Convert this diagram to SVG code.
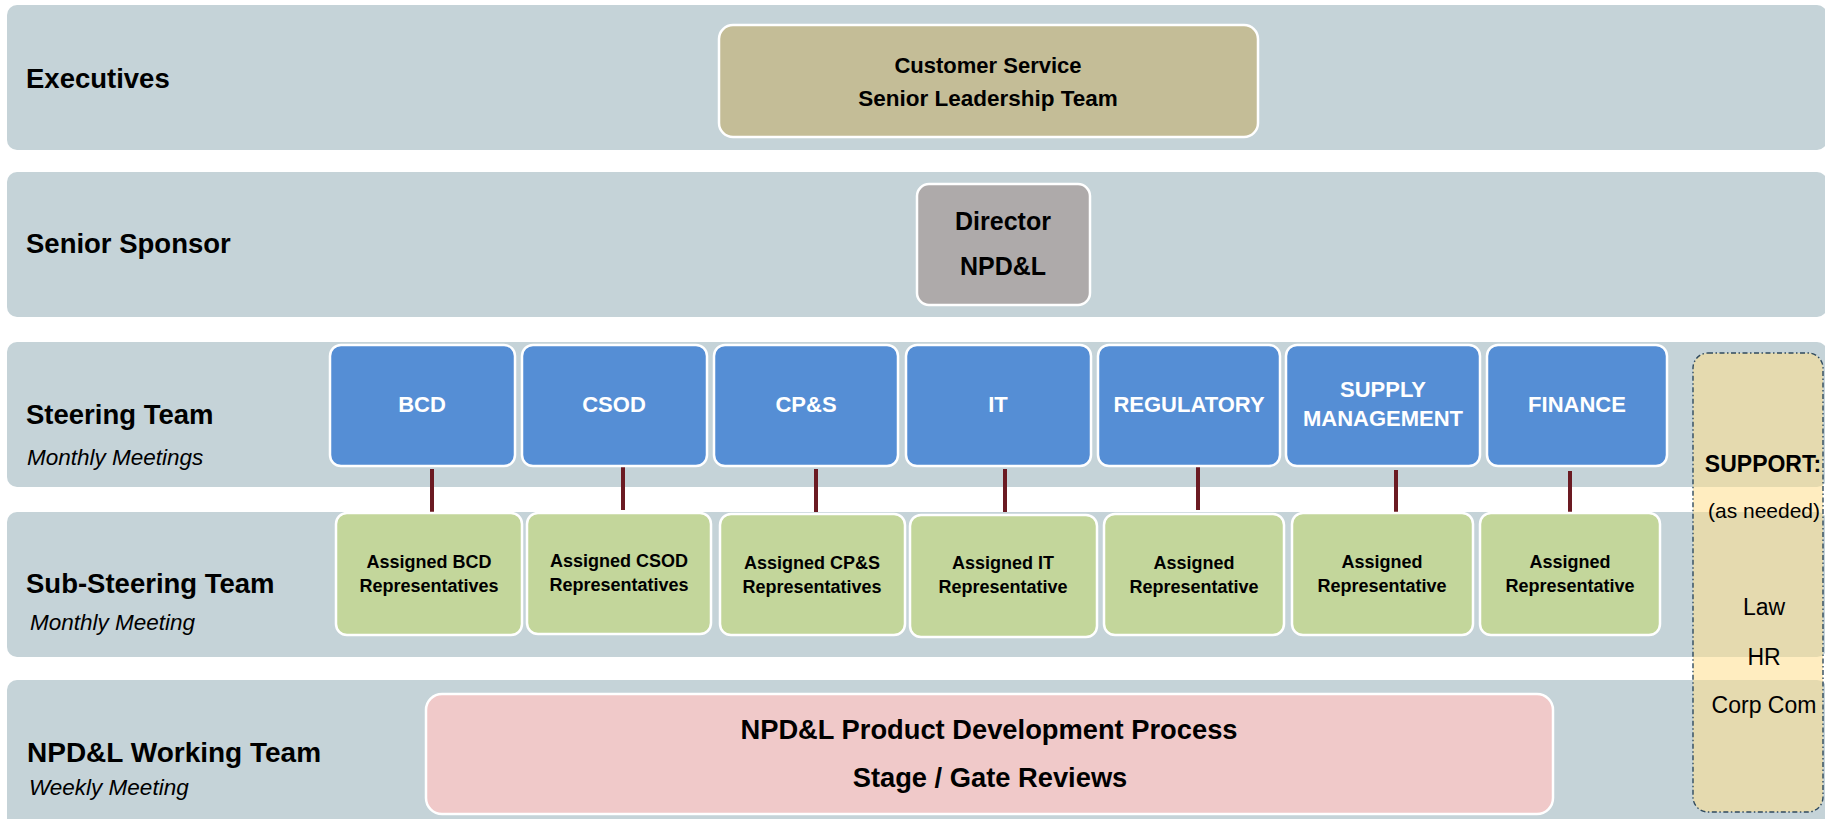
<svg xmlns="http://www.w3.org/2000/svg" width="1825" height="819" viewBox="0 0 1825 819">
<style>
text{font-family:"Liberation Sans",Arial,sans-serif;fill:#000}
.band{fill:#C5D3D8}
.lbl{font-weight:bold;font-size:27.5px}
.sub{font-style:italic;font-size:22.5px}
.box{stroke:#fff;stroke-width:2.5}
.exec{fill:#C4BD97}
.dir{fill:#AEAAAA}
.blue{fill:#558ED5}
.green{fill:#C3D69B}
.pink{fill:#F0C9C9}
.bt{font-weight:bold;font-size:22px;fill:#fff;text-anchor:middle}
.gt{font-weight:bold;font-size:18px;text-anchor:middle}
.ct{font-weight:bold;text-anchor:middle}
.st{font-size:23px;text-anchor:middle}
.conn line{stroke:#6B1A22;stroke-width:4}
</style>
<g id="bands">
<rect class="band" x="7" y="5" width="1820" height="145" rx="10"/>
<rect class="band" x="7" y="172" width="1820" height="145" rx="10"/>
<rect class="band" x="7" y="342" width="1820" height="145" rx="10"/>
<rect class="band" x="7" y="512" width="1820" height="145" rx="10"/>
<rect class="band" x="7" y="680" width="1820" height="150" rx="10"/>
</g>
<g id="row-labels">
<text class="lbl" x="26" y="88">Executives</text>
<text class="lbl" x="26" y="253">Senior Sponsor</text>
<text class="lbl" x="26" y="424">Steering Team</text>
<text class="sub" x="27" y="465">Monthly Meetings</text>
<text class="lbl" x="26" y="593">Sub-Steering Team</text>
<text class="sub" x="30" y="630">Monthly Meeting</text>
<text class="lbl" x="27" y="762" style="font-size:28px">NPD&amp;L Working Team</text>
<text class="sub" x="29" y="795">Weekly Meeting</text>
</g>
<g id="support">
<rect x="1693" y="353" width="130" height="459" rx="15" fill="#FFDF8F" fill-opacity="0.56" stroke="#2F4A5E" stroke-width="1.4" stroke-dasharray="5,2.5,1.5,2.5"/>
<text class="ct" x="1763" y="472" font-size="23">SUPPORT:</text>
<text class="st" x="1764" y="518" style="font-size:21px">(as needed)</text>
<text class="st" x="1764" y="615">Law</text>
<text class="st" x="1764" y="665">HR</text>
<text class="st" x="1764" y="713">Corp Com</text>
</g>
<g id="exec">
<rect class="box exec" x="719" y="25" width="539" height="112" rx="14"/>
<text class="ct" x="988" y="73" font-size="22">Customer Service</text>
<text class="ct" x="988" y="106" font-size="22.5">Senior Leadership Team</text>
</g>
<g id="director">
<rect class="box dir" x="917" y="184" width="173" height="121" rx="12"/>
<text class="ct" x="1003" y="230" font-size="25">Director</text>
<text class="ct" x="1003" y="275" font-size="25">NPD&amp;L</text>
</g>
<g class="conn" id="connectors">
<line x1="432" y1="469" x2="432" y2="513"/>
<line x1="623" y1="466" x2="623" y2="510"/>
<line x1="816" y1="469" x2="816" y2="512"/>
<line x1="1005" y1="469" x2="1005" y2="512"/>
<line x1="1198" y1="467" x2="1198" y2="510"/>
<line x1="1396" y1="470" x2="1396" y2="513"/>
<line x1="1570" y1="471" x2="1570" y2="515"/>
</g>
<g id="st-bcd"><rect class="box blue" x="330" y="345" width="185" height="121" rx="11"/><text class="bt" x="422" y="412">BCD</text></g>
<g id="st-csod"><rect class="box blue" x="522" y="345" width="185" height="121" rx="11"/><text class="bt" x="614" y="412">CSOD</text></g>
<g id="st-cps"><rect class="box blue" x="714" y="345" width="184" height="121" rx="11"/><text class="bt" x="806" y="412">CP&amp;S</text></g>
<g id="st-it"><rect class="box blue" x="906" y="345" width="185" height="121" rx="11"/><text class="bt" x="998" y="412">IT</text></g>
<g id="st-reg"><rect class="box blue" x="1098" y="345" width="182" height="121" rx="11"/><text class="bt" x="1189" y="412">REGULATORY</text></g>
<g id="st-supply"><rect class="box blue" x="1286" y="345" width="194" height="121" rx="11"/><text class="bt" x="1383" y="397">SUPPLY</text><text class="bt" x="1383" y="426">MANAGEMENT</text></g>
<g id="st-fin"><rect class="box blue" x="1487" y="345" width="180" height="121" rx="11"/><text class="bt" x="1577" y="412">FINANCE</text></g>
<g id="sub-bcd"><rect class="box green" x="336" y="513" width="186" height="122" rx="11"/><text class="gt" x="429" y="568">Assigned BCD</text><text class="gt" x="429" y="592">Representatives</text></g>
<g id="sub-csod"><rect class="box green" x="527" y="513" width="184" height="121" rx="11"/><text class="gt" x="619" y="567">Assigned CSOD</text><text class="gt" x="619" y="591">Representatives</text></g>
<g id="sub-cps"><rect class="box green" x="720" y="514" width="185" height="121" rx="11"/><text class="gt" x="812" y="569">Assigned CP&amp;S</text><text class="gt" x="812" y="593">Representatives</text></g>
<g id="sub-it"><rect class="box green" x="910" y="515" width="187" height="122" rx="11"/><text class="gt" x="1003" y="569">Assigned IT</text><text class="gt" x="1003" y="593">Representative</text></g>
<g id="sub-reg"><rect class="box green" x="1104" y="514" width="180" height="121" rx="11"/><text class="gt" x="1194" y="569">Assigned</text><text class="gt" x="1194" y="593">Representative</text></g>
<g id="sub-supply"><rect class="box green" x="1292" y="513" width="181" height="122" rx="11"/><text class="gt" x="1382" y="568">Assigned</text><text class="gt" x="1382" y="592">Representative</text></g>
<g id="sub-fin"><rect class="box green" x="1480" y="513" width="180" height="122" rx="11"/><text class="gt" x="1570" y="568">Assigned</text><text class="gt" x="1570" y="592">Representative</text></g>
<g id="process">
<rect class="box pink" x="426" y="694" width="1127" height="120" rx="16"/>
<text class="ct" x="989" y="739" font-size="27.3">NPD&amp;L Product Development Process</text>
<text class="ct" x="990" y="787" font-size="27.3">Stage / Gate Reviews</text>
</g>
</svg>
